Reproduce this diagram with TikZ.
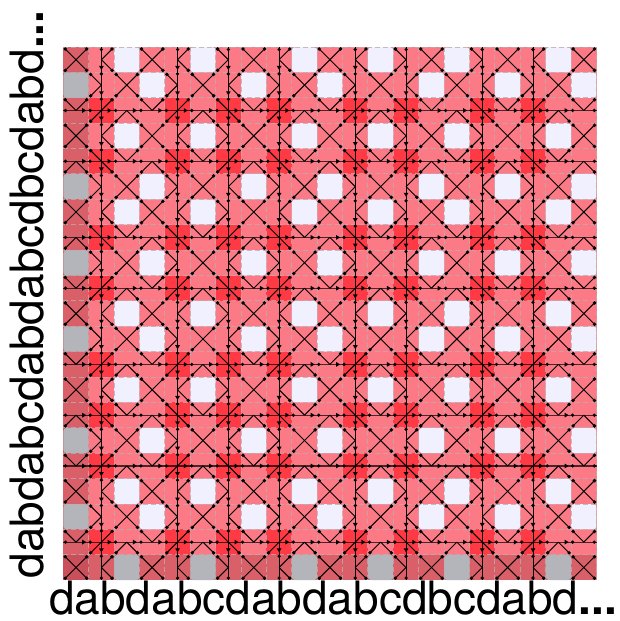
\documentclass[tikz,border=0pt]{standalone}
\usepackage{fontspec}
\setmainfont{TeX Gyre Heros}
\definecolor{pinkc}{HTML}{FB7A85}
\definecolor{redc}{HTML}{FF3A45}
\definecolor{whitec}{HTML}{F0F0FF}
\definecolor{grayc}{HTML}{B4B5BA}
\definecolor{darkc}{HTML}{D95F68}
\definecolor{cornerc}{HTML}{C9505A}
\definecolor{dashc}{HTML}{B8AEB2}
\foreach \i/\v in {0/1,1/0,2/2,3/1,4/0,5/2,6/0,7/1,8/0,9/2,10/1,11/0,12/2,13/0,14/1,15/2,16/0,17/1,18/0,19/2,20/1}{%
  \pgfmathtruncatemacro\j{20-\i}%
  \expandafter\xdef\csname Ca\i\endcsname{\v}%
  \expandafter\xdef\csname Ra\j\endcsname{\v}%
}
\expandafter\gdef\csname Ca-1\endcsname{0}
\expandafter\gdef\csname Ca21\endcsname{0}
\expandafter\gdef\csname Ra-1\endcsname{0}
\expandafter\gdef\csname Ra21\endcsname{0}
\expandafter\gdef\csname Q00\endcsname{0}
\expandafter\gdef\csname Q01\endcsname{0}
\expandafter\gdef\csname Q02\endcsname{0}
\expandafter\gdef\csname Q10\endcsname{0}
\expandafter\gdef\csname Q20\endcsname{0}
\expandafter\gdef\csname Q11\endcsname{2}
\expandafter\gdef\csname Q22\endcsname{2}
\expandafter\gdef\csname Q12\endcsname{1}
\expandafter\gdef\csname Q21\endcsname{1}
\def\Qt#1#2{\csname Q\csname Ra\number\numexpr#1\relax\endcsname\csname Ca\number\numexpr#2\relax\endcsname\endcsname}
\newcommand\diagto[4]{% cx cy dr dc
  \draw[diagline] (#1,#2) -- ({#1+#4*10.7},{#2+#3*10.7});
  \fill ({#1+#4*10.7},{#2+#3*10.7}) circle (1.9);
}
\tikzset{
  diagline/.style={black,line width=.95pt},
  gridline/.style={dashc,opacity=.8,line width=1pt,dash pattern=on 5pt off 3pt},
  hline/.style={black,opacity=.7,line width=1.2pt},
  vline/.style={black,line width=1pt},
  labeltext/.style={inner sep=0pt,font=\fontsize{46}{46}\selectfont}
}
\begin{document}
\begin{tikzpicture}[x=1pt,y=-1pt]
\useasboundingbox (0,0) rectangle (620,621);
\fill[white] (0,0) rectangle (620,621);
% cells
\fill[pinkc] (63.3,47) rectangle (596.5,580.2);
\foreach \r in {0,...,20}{
  \foreach \c in {0,...,20}{
    \pgfmathsetmacro\xa{63.3+\c*25.39}
    \pgfmathsetmacro\ya{47+\r*25.39}
    \edef\tp{\Qt{\r}{\c}}
    \edef\rv{\csname Ra\r\endcsname}
    \edef\cv{\csname Ca\c\endcsname}
    \ifnum\c=0
      \ifnum\r=20
        \fill[cornerc] (\xa,\ya) rectangle +(25.39,25.39);
      \else
        \fill[darkc] (\xa,\ya) rectangle +(25.39,25.39);
      \fi
    \else
      \ifnum\r=20
        \fill[darkc] (\xa,\ya) rectangle +(25.39,25.39);
      \fi
    \fi
    \ifnum\rv=0 \ifnum\cv=0
      \fill[redc] (\xa,\ya) rectangle +(25.39,25.39);
    \fi\fi
    \ifnum\tp=1
      \ifnum\c=0
        \fill[grayc,rounded corners=3.5pt] (\xa,\ya) rectangle +(25.39,25.39);
      \else
        \ifnum\r=20
          \fill[grayc,rounded corners=3.5pt] (\xa,\ya) rectangle +(25.39,25.39);
        \else
          \fill[whitec,rounded corners=3.5pt] (\xa,\ya) rectangle +(25.39,25.39);
        \fi
      \fi
    \fi
  }
}
% dashed cell borders
\foreach \i in {0,...,20}{
  \draw[gridline] (63.3,{47+\i*25.39}) -- (596.5,{47+\i*25.39});
}
\foreach \i in {1,...,21}{
  \draw[gridline] ({63.3+\i*25.39},47) -- ({63.3+\i*25.39},580.2);
}
% straight lines with their markers
\foreach \r in {0,...,20}{
  \edef\rv{\csname Ra\r\endcsname}
  \ifnum\rv=0
    \pgfmathsetmacro\yc{47+(\r+.5)*25.39}
    \draw[hline] (63.3,\yc) -- (596.5,\yc);
    \fill (65.5,\yc) circle (1.8);
    \fill (594.3,\yc) circle (1.8);
    \foreach \i in {1,...,20}{
      \pgfmathsetmacro\bb{63.3+\i*25.39}
      \fill (\bb+1.5,\yc) circle (1.8);
      \fill (\bb-6.5,\yc-2.4) -- (\bb-2.5,\yc) -- (\bb-6.5,\yc+2.4) -- cycle;
    }
  \fi
}
\foreach \c in {0,...,20}{
  \edef\cv{\csname Ca\c\endcsname}
  \ifnum\cv=0
    \pgfmathsetmacro\xc{63.3+(\c+.5)*25.39}
    \draw[vline] (\xc,47) -- (\xc,580.2);
    \fill (\xc,49.5) circle (1.8);
    \fill (\xc,578) circle (1.8);
    \foreach \i in {1,...,20}{
      \pgfmathsetmacro\bb{47+\i*25.39}
      \fill (\xc,\bb+1.5) circle (1.8);
      \fill (\xc-2.4,\bb-6.5) -- (\xc,\bb-2.5) -- (\xc+2.4,\bb-6.5) -- cycle;
    }
  \fi
}
% diagonals
\foreach \r in {0,...,20}{
  \foreach \c in {0,...,20}{
    \pgfmathsetmacro\xm{63.3+(\c+.5)*25.39}
    \pgfmathsetmacro\ym{47+(\r+.5)*25.39}
    \edef\tp{\Qt{\r}{\c}}
    \foreach \dr in {-1,1}{
      \foreach \dc in {-1,1}{
        \ifnum\tp=2
          \diagto{\xm}{\ym}{\dr}{\dc}
        \else\ifnum\tp=0
          \ifnum\Qt{\r+\dr}{\c}=1
            \diagto{\xm}{\ym}{\dr}{\dc}
          \else\ifnum\Qt{\r}{\c+\dc}=1
            \diagto{\xm}{\ym}{\dr}{\dc}
          \else\ifnum\Qt{\r+\dr}{\c+\dc}=2
            \diagto{\xm}{\ym}{\dr}{\dc}
          \fi\fi\fi
        \fi\fi
      }
    }
  }
}
% axis labels
\node[labeltext,anchor=base west] (xlabel) at (49,614) {dabdabcdabdabcdbcdabd\textbf{...}};
\node[labeltext,anchor=base west,rotate=90] (ylabel) at (43.8,578.5) {dabdabcdabdabcdbcdabd\textbf{...}};
\end{tikzpicture}
\end{document}
